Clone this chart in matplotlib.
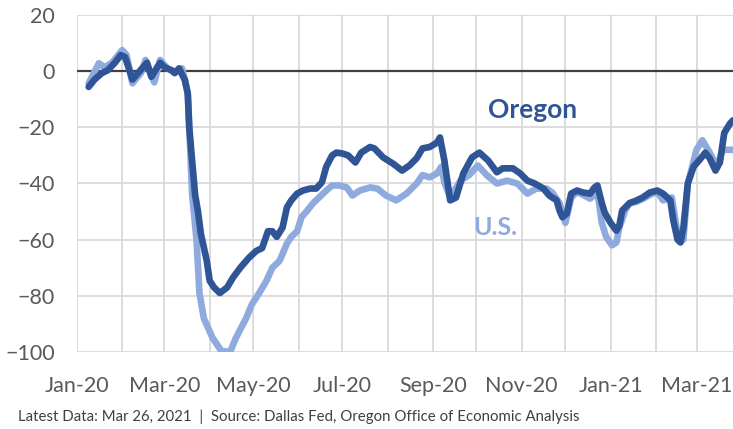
import matplotlib
matplotlib.use("Agg")
import matplotlib.pyplot as plt
import matplotlib.dates as mdates
import pandas as pd

# ---- data ----
oregon_dates = [
    "2020-01-09", "2020-01-13", "2020-01-18", "2020-01-22", "2020-01-27", "2020-01-31",
    "2020-02-03", "2020-02-06", "2020-02-08", "2020-02-13", "2020-02-18", "2020-02-21",
    "2020-02-27", "2020-03-01", "2020-03-06", "2020-03-08", "2020-03-11", "2020-03-15",
    "2020-03-17", "2020-03-18", "2020-03-20", "2020-03-22", "2020-03-24", "2020-03-26",
    "2020-03-30", "2020-04-01", "2020-04-04", "2020-04-08", "2020-04-13", "2020-04-17",
    "2020-04-22", "2020-04-28", "2020-05-03", "2020-05-07", "2020-05-11", "2020-05-14",
    "2020-05-17", "2020-05-21", "2020-05-24", "2020-05-27", "2020-05-31", "2020-06-04",
    "2020-06-09", "2020-06-13", "2020-06-17", "2020-06-20", "2020-06-24", "2020-06-27",
    "2020-07-01", "2020-07-05", "2020-07-10", "2020-07-14", "2020-07-20", "2020-07-23",
    "2020-07-29", "2020-08-05", "2020-08-11", "2020-08-16", "2020-08-21", "2020-08-25",
    "2020-08-30", "2020-09-04", "2020-09-06", "2020-09-09", "2020-09-13", "2020-09-17",
    "2020-09-22", "2020-09-28", "2020-10-03", "2020-10-09", "2020-10-15", "2020-10-19",
    "2020-10-26", "2020-10-31", "2020-11-05", "2020-11-10", "2020-11-16", "2020-11-20",
    "2020-11-25", "2020-11-27", "2020-11-29", "2020-12-02", "2020-12-05", "2020-12-09",
    "2020-12-13", "2020-12-18", "2020-12-21", "2020-12-23", "2020-12-26", "2020-12-28",
    "2021-01-01", "2021-01-05", "2021-01-07", "2021-01-09", "2021-01-14", "2021-01-19",
    "2021-01-23", "2021-01-28", "2021-02-02", "2021-02-06", "2021-02-11", "2021-02-13",
    "2021-02-16", "2021-02-18", "2021-02-20", "2021-02-23", "2021-02-27", "2021-03-04",
    "2021-03-07", "2021-03-10", "2021-03-14", "2021-03-17", "2021-03-20", "2021-03-24",
    "2021-03-26",
]
oregon_values = [
    -5.6, -3.0, -0.7, 0.3, 3.0, 5.7,
    5.0, 0.3, -3.0, 0.0, 3.0, -2.0,
    3.0, 1.4, 0.3, -0.7, 1.0, -3.2,
    -8.0, -20.0, -32.0, -44.0, -50.0, -58.0,
    -67.5, -74.6, -77.0, -79.0, -77.0, -73.5,
    -70.0, -66.4, -64.0, -63.0, -57.0, -57.0,
    -59.0, -55.7, -48.5, -46.0, -43.6, -42.5,
    -41.8, -41.8, -39.6, -34.0, -30.0, -29.0,
    -29.3, -30.0, -32.5, -29.0, -27.0, -27.5,
    -30.7, -33.0, -35.4, -33.6, -31.0, -27.5,
    -27.0, -25.4, -23.6, -31.8, -46.0, -45.0,
    -36.4, -30.7, -29.0, -31.8, -36.0, -34.6,
    -34.6, -36.4, -39.0, -40.0, -41.8, -44.3,
    -46.0, -49.6, -52.0, -50.7, -43.6, -42.5,
    -43.2, -43.6, -41.4, -40.7, -47.0, -50.4,
    -54.0, -56.8, -55.0, -49.6, -47.0, -46.0,
    -45.0, -43.2, -42.5, -43.6, -46.0, -53.0,
    -60.0, -61.0, -55.7, -40.0, -34.0, -31.0,
    -29.0, -31.0, -35.4, -32.5, -22.0, -18.6,
    -17.5,
]

us_dates = [
    "2020-01-09", "2020-01-16", "2020-01-20", "2020-01-25", "2020-02-01", "2020-02-04",
    "2020-02-08", "2020-02-14", "2020-02-17", "2020-02-23", "2020-02-27", "2020-03-03",
    "2020-03-08", "2020-03-13", "2020-03-15", "2020-03-17", "2020-03-18", "2020-03-20",
    "2020-03-23", "2020-03-25", "2020-03-28", "2020-04-03", "2020-04-09", "2020-04-15",
    "2020-04-19", "2020-04-26", "2020-04-30", "2020-05-05", "2020-05-10", "2020-05-14",
    "2020-05-19", "2020-05-24", "2020-05-27", "2020-05-31", "2020-06-03", "2020-06-07",
    "2020-06-11", "2020-06-15", "2020-06-20", "2020-06-24", "2020-06-29", "2020-07-04",
    "2020-07-08", "2020-07-13", "2020-07-20", "2020-07-25", "2020-07-31", "2020-08-07",
    "2020-08-14", "2020-08-21", "2020-08-25", "2020-08-30", "2020-09-04", "2020-09-07",
    "2020-09-09", "2020-09-13", "2020-09-20", "2020-09-26", "2020-10-02", "2020-10-08",
    "2020-10-15", "2020-10-22", "2020-10-29", "2020-11-05", "2020-11-11", "2020-11-18",
    "2020-11-22", "2020-11-27", "2020-12-01", "2020-12-05", "2020-12-09", "2020-12-13",
    "2020-12-18", "2020-12-23", "2020-12-26", "2020-12-29", "2021-01-02", "2021-01-05",
    "2021-01-07", "2021-01-11", "2021-01-14", "2021-01-19", "2021-01-23", "2021-01-28",
    "2021-02-02", "2021-02-06", "2021-02-12", "2021-02-16", "2021-02-20", "2021-02-23",
    "2021-03-01", "2021-03-05", "2021-03-10", "2021-03-15", "2021-03-19", "2021-03-26",
]
us_values = [
    -4.3, 2.8, 1.4, 3.0, 7.5, 5.7,
    -4.3, -0.5, 4.0, -4.0, 4.0, 1.0,
    -0.4, 1.0, -3.0, -8.0, -20.0, -44.0,
    -60.0, -79.0, -88.0, -95.0, -99.6, -100.0,
    -95.0, -88.0, -83.0, -79.0, -74.6, -70.0,
    -67.5, -61.4, -59.0, -57.0, -52.0, -49.6,
    -47.0, -45.0, -42.5, -40.7, -40.7, -41.4,
    -44.3, -42.5, -41.4, -41.8, -44.3, -46.0,
    -43.6, -40.0, -37.0, -37.8, -36.4, -34.0,
    -39.6, -45.0, -39.0, -37.0, -33.6, -37.0,
    -40.0, -39.0, -40.0, -43.6, -41.8, -41.8,
    -43.2, -47.0, -54.0, -45.0, -43.0, -44.0,
    -45.4, -43.0, -54.0, -59.0, -62.0, -61.0,
    -55.7, -49.6, -47.0, -46.5, -45.5, -44.0,
    -43.0, -46.0, -45.0, -58.0, -60.0, -40.0,
    -28.0, -24.6, -29.0, -34.0, -28.0, -28.0,
]

y_ticks = [-100, -80, -60, -40, -20, 0, 20]
x_start, x_end = "2020-01-01", "2021-03-26"

# ---- styling ----
DARK = "#2F5597"
LIGHT = "#8FAADC"
GRID = "#D9D9D9"
TXT = "#595959"
FONT = ["Lato", "DejaVu Sans"]

plt.rcParams["font.family"] = FONT

fig = plt.figure(figsize=(7.33, 4.29), dpi=100)
ax = fig.add_axes([77 / 733, 1 - 352 / 429, (733 - 77) / 733, (352 - 15) / 429])

od = pd.to_datetime(oregon_dates)
ud = pd.to_datetime(us_dates)

ax.plot(ud, us_values, color=LIGHT, lw=4.8, solid_joinstyle="round",
        solid_capstyle="round", zorder=3)
ax.plot(od, oregon_values, color=DARK, lw=4.8, solid_joinstyle="round",
        solid_capstyle="round", zorder=4)
ax.axhline(0, color="#404040", lw=1.6, zorder=2)

ax.set_xlim(pd.Timestamp(x_start), pd.Timestamp(x_end))
ax.set_ylim(-100, 20)
ax.set_yticks(y_ticks)

ax.xaxis.set_major_locator(mdates.MonthLocator(bymonth=[1, 3, 5, 7, 9, 11]))
ax.xaxis.set_minor_locator(mdates.MonthLocator())
ax.xaxis.set_major_formatter(mdates.DateFormatter("%b-%y"))

ax.grid(True, which="both", axis="x", color=GRID, lw=1.3, zorder=0)
ax.grid(True, which="major", axis="y", color=GRID, lw=1.3, zorder=0)
for s in ax.spines.values():
    s.set_visible(False)

ax.tick_params(axis="both", which="both", length=0)
ax.tick_params(axis="x", pad=17, labelsize=15.5, labelcolor=TXT)
ax.tick_params(axis="y", pad=16, labelsize=15.5, labelcolor=TXT)

ax.text(0.695, 0.718, "Oregon", transform=ax.transAxes, color=DARK,
        fontsize=19, fontweight="bold", ha="center", va="center")
ax.text(0.637, 0.368, "U.S.", transform=ax.transAxes, color=LIGHT,
        fontsize=18, fontweight="bold", ha="center", va="center")

fig.text(18 / 733, 1 - 417 / 429,
         "Latest Data: Mar 26, 2021  |  Source: Dallas Fed, Oregon Office of Economic Analysis",
         color="#404040", fontsize=10.8, ha="left", va="center")

fig.savefig("out.png", dpi=100)
